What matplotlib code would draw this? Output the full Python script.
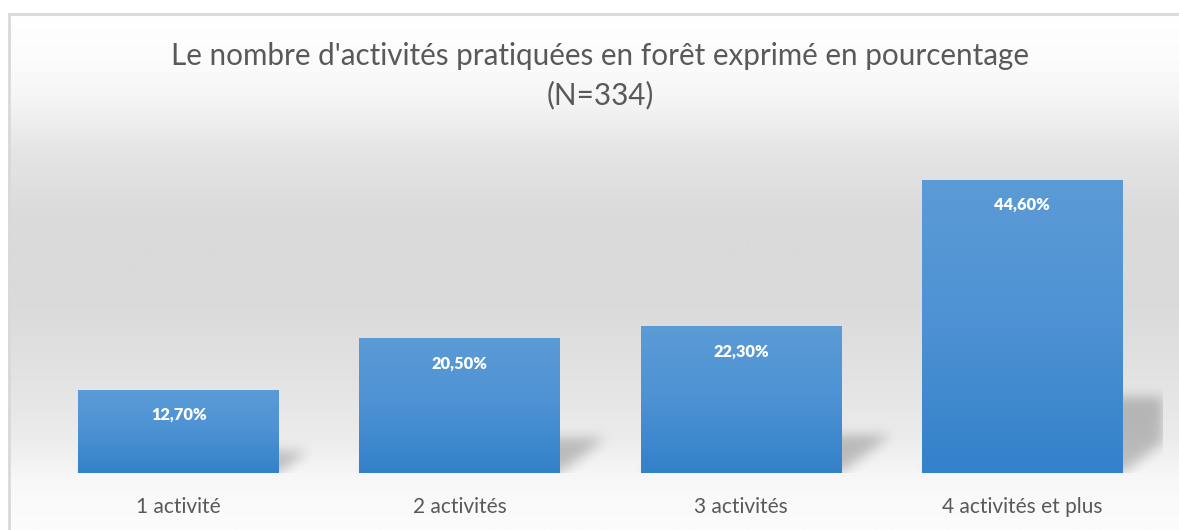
import numpy as np
import matplotlib
matplotlib.use("Agg")
import matplotlib.pyplot as plt
from matplotlib.colors import LinearSegmentedColormap

plt.rcParams['font.family'] = ['Lato', 'DejaVu Sans']

categories = ["1 activité", "2 activités", "3 activités", "4 activités et plus"]
pourcentages = [12.70, 20.50, 22.30, 44.60]
titre = "Le nombre d'activités pratiquées en forêt exprimé en pourcentage\n(N=334)"

W, H = 1179, 530
fig = plt.figure(figsize=(W / 100, H / 100), dpi=100)
fig.patch.set_facecolor("white")

# fond du graphique : dégradé vertical blanc -> gris -> blanc
bg = fig.add_axes([0, 0, 1, 1], zorder=-2)
bg.set_xlim(0, W)
bg.set_ylim(H, 0)
bg.axis("off")
ys = np.arange(13, H + 1)
stops_y = [13, 60, 100, 150, 220, 300, 380, 440, 480, 530]
stops_v = [255, 252, 245, 229, 218, 218, 227, 236, 248, 252]
grey = np.interp(ys, stops_y, stops_v) / 255.0
grad = np.repeat(grey[:, None], 2, axis=1)
grad = np.dstack([grad, grad, grad])
bg.imshow(grad, extent=[8, W, H, 13], aspect="auto", interpolation="bilinear")
bg.plot([8.5, 8.5], [H, 13], color="#d9d9d9", lw=2, solid_capstyle="butt")
bg.plot([8, W], [13.5, 13.5], color="#d9d9d9", lw=2, solid_capstyle="butt")

fig.text(600 / W, 1 - 76 / H, titre, ha="center", va="center",
         fontsize=21.3, color="#595959", linespacing=1.45)

ax = fig.add_axes([38 / W, 57 / H, 1125 / W, 328.5 / H])
ax.set_facecolor("none")
ax.set_xlim(-0.5, 3.5)
ax.set_ylim(0, 50)
x = np.arange(len(categories))
largeur = 1 / 1.4

# ombres portées en perspective derrière les barres
nx, ny = 1125, 329
gx = -0.5 + (np.arange(nx) + 0.5) / nx * 4
gy = (np.arange(ny) + 0.5) / ny * 50
GX, GY = np.meshgrid(gx, gy)
masque = np.zeros((ny, nx))
for xi, v in zip(x, pourcentages):
    hs = 0.26 * v
    decal = 0.0078 * v
    t = np.clip(GY / hs, 0, None)
    gauche = xi - largeur / 2 + decal * t
    droite = xi + largeur / 2 + decal * t
    dedans = (GY <= hs) & (GX >= gauche) & (GX <= droite)
    masque = np.maximum(masque, dedans.astype(float))

def flou(a, sigma):
    r = int(3 * sigma)
    k = np.exp(-0.5 * (np.arange(-r, r + 1) / sigma) ** 2)
    k /= k.sum()
    a = np.apply_along_axis(lambda m: np.convolve(m, k, mode="same"), 1, a)
    a = np.apply_along_axis(lambda m: np.convolve(m, k, mode="same"), 0, a)
    return a

masque = flou(masque, 6)
ombre = np.zeros((ny, nx, 4))
ombre[..., 3] = masque * 0.22
ax.imshow(ombre, extent=[-0.5, 3.5, 0, 50], origin="lower", aspect="auto",
          zorder=1, interpolation="bilinear")

barres = ax.bar(x, pourcentages, width=largeur, color="#4a8fd2", zorder=2)

# dégradé bleu dans chaque barre
cmap_barre = LinearSegmentedColormap.from_list(
    "barre", [(0.0, "#3381ca"), (0.55, "#4f93d4"), (1.0, "#5b9bd6")])
for b in barres:
    x0, y0 = b.get_x(), b.get_y()
    im = ax.imshow(np.linspace(0, 1, 256)[:, None], cmap=cmap_barre,
                   extent=[x0, x0 + b.get_width(), y0, y0 + b.get_height()],
                   origin="lower", aspect="auto", zorder=3)
    im.set_clip_path(b)

for xi, v in zip(x, pourcentages):
    ax.annotate(f"{v:.2f}".replace(".", ",") + "%", (xi, v), xytext=(0, -18),
                textcoords="offset points", ha="center", va="center",
                color="white", fontweight="heavy", fontsize=11.8, zorder=4)

ax.set_xticks(x, categories)
ax.tick_params(axis="x", length=0, pad=17, labelsize=15, labelcolor="#595959")
ax.set_yticks([])
for s in ax.spines.values():
    s.set_visible(False)

fig.savefig("out.png", dpi=100)
